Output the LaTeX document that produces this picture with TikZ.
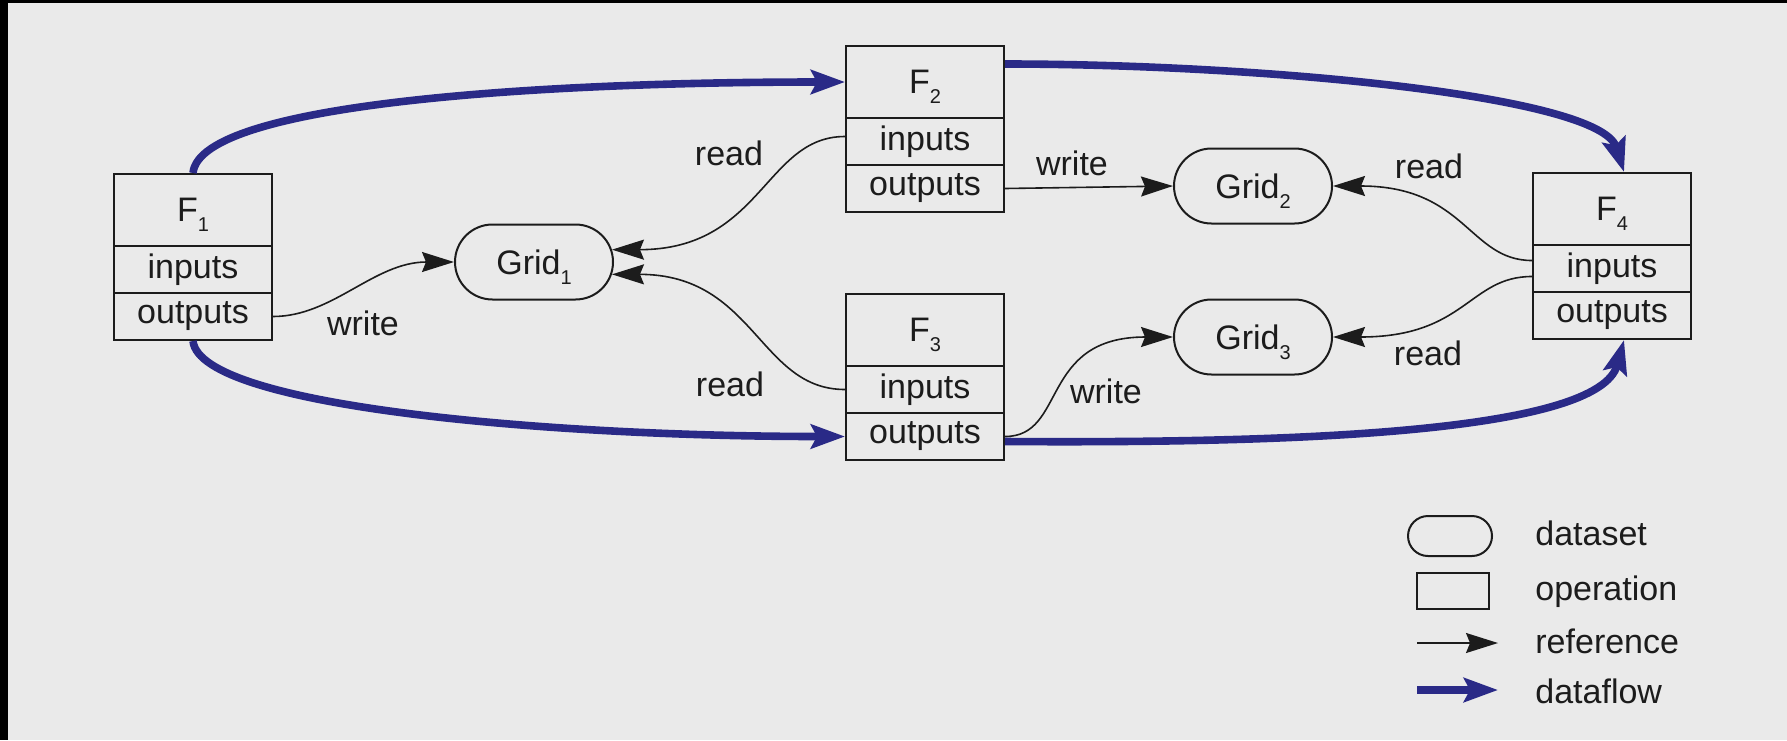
\documentclass[tikz,border=0pt]{standalone}
\usepackage{fontspec}
\setmainfont{Liberation Sans}
\usetikzlibrary{arrows.meta,shapes.misc}
\definecolor{bg}{RGB}{234,234,234}
\definecolor{flow}{RGB}{42,42,135}
\definecolor{ink}{RGB}{28,28,28}
\newcommand\mysub[1]{\raisebox{-5pt}[0pt][0pt]{\fontsize{10}{10}\selectfont #1}}
\begin{document}
\begin{tikzpicture}[x=0.5pt,y=-0.5pt,
  every node/.style={font=\fontsize{17}{19}\selectfont, text=ink},
  optitle/.style={draw=ink, line width=1pt, minimum width=79pt, minimum height=36pt, inner sep=0pt, anchor=north},
  oprow/.style={draw=ink, line width=1pt, minimum width=79pt, minimum height=23.5pt, inner sep=0pt, anchor=north},
  dataset/.style={draw=ink, line width=1pt, rounded rectangle, minimum width=79pt, minimum height=37.5pt, inner sep=0pt},
  refarrow/.style={draw=ink, line width=0.8pt, -{Stealth[length=16pt,width=10pt,inset=2pt]}},
  flowarrow/.style={draw=flow, line width=3.8pt, -{Stealth[length=17pt,width=12pt,inset=3pt]}},
  lbl/.style={anchor=base, inner sep=0pt}
]
\useasboundingbox (0,0) rectangle (1787,740);
\fill[bg] (0,0) rectangle (1787,740);
\fill[black] (0,0) rectangle (8,740);
\fill[black] (0,0) rectangle (1787,3);

% operations
\node[optitle] (F1t) at (193,173) {F\mysub{1}};
\node[oprow] (F1i) at (193,245) {inputs};
\node[oprow] (F1o) at (193,292) {outputs};

\node[optitle] (F2t) at (925,45) {F\mysub{2}};
\node[oprow] (F2i) at (925,117) {inputs};
\node[oprow] (F2o) at (925,164) {outputs};

\node[optitle] (F3t) at (925,293) {F\mysub{3}};
\node[oprow] (F3i) at (925,365) {inputs};
\node[oprow] (F3o) at (925,412) {outputs};

\node[optitle] (F4t) at (1612,172) {F\mysub{4}};
\node[oprow] (F4i) at (1612,244) {inputs};
\node[oprow] (F4o) at (1612,291) {outputs};

% datasets
\node[dataset] (G1) at (534,262) {Grid\mysub{1}};
\node[dataset] (G2) at (1253,186) {Grid\mysub{2}};
\node[dataset] (G3) at (1253,337) {Grid\mysub{3}};

% references
\draw[refarrow] (F1o.east) .. controls +(60,0) and +(-80,0) .. (G1.west);
\draw[refarrow] ([yshift=2.5pt]F2i.west) .. controls +(-80,0) and +(150,0) .. (G1.9);
\draw[refarrow] (F3i.west) .. controls +(-86,0) and +(143,0) .. (G1.-9);
\draw[refarrow] (F2o.east) -- (G2.west);
\draw[refarrow] ([yshift=4pt]F4i.west) .. controls +(-63,0) and +(133,0) .. (G2.east);
\draw[refarrow] ([yshift=-4pt]F4i.west) .. controls +(-63,0) and +(133,0) .. (G3.east);
\draw[refarrow] (F3o.east) .. controls +(62,0) and +(-134,0) .. (G3.west);

% dataflow
\draw[flowarrow] (F1t.north) .. controls +(7,-72) and +(-286,0) .. (F2t.west);
\draw[flowarrow] ([yshift=9pt]F2t.east) .. controls +(250,0) and +(-24,-77) .. ([xshift=6pt]F4t.north);
\draw[flowarrow] (F1o.south) .. controls +(7,67) and +(-286,0) .. (F3o.west);
\draw[flowarrow] ([yshift=-2.5pt]F3o.east) .. controls +(297,2) and +(-25,92) .. ([xshift=6pt]F4o.south);

% labels
\node[lbl] (lw1) at (363,335) {write};
\node[lbl] (lr1) at (729,165) {read};
\node[lbl] (lr2) at (730,396) {read};
\node[lbl] (lw2) at (1072,175) {write};
\node[lbl] (lw3) at (1106,403) {write};
\node[lbl] (lr3) at (1429,178) {read};
\node[lbl] (lr4) at (1428,365) {read};

% legend
\node[dataset, minimum width=42pt, minimum height=20pt] (legD) at (1450,536) {};
\node[draw=ink, line width=1pt, minimum width=36pt, minimum height=18pt, inner sep=0pt] (legO) at (1453,591) {};
\coordinate (legRa) at (1417,643);
\coordinate (legRb) at (1498,643);
\draw[refarrow] (legRa) -- (legRb);
\coordinate (legFa) at (1417,690);
\coordinate (legFb) at (1498,690);
\draw[flowarrow] (legFa) -- (legFb);
\node[anchor=base west, inner sep=0pt] (tD) at (1535,545) {dataset};
\node[anchor=base west, inner sep=0pt] (tO) at (1535,600) {operation};
\node[anchor=base west, inner sep=0pt] (tR) at (1535,653) {reference};
\node[anchor=base west, inner sep=0pt] (tF) at (1535,703) {dataflow};
\end{tikzpicture}
\end{document}
